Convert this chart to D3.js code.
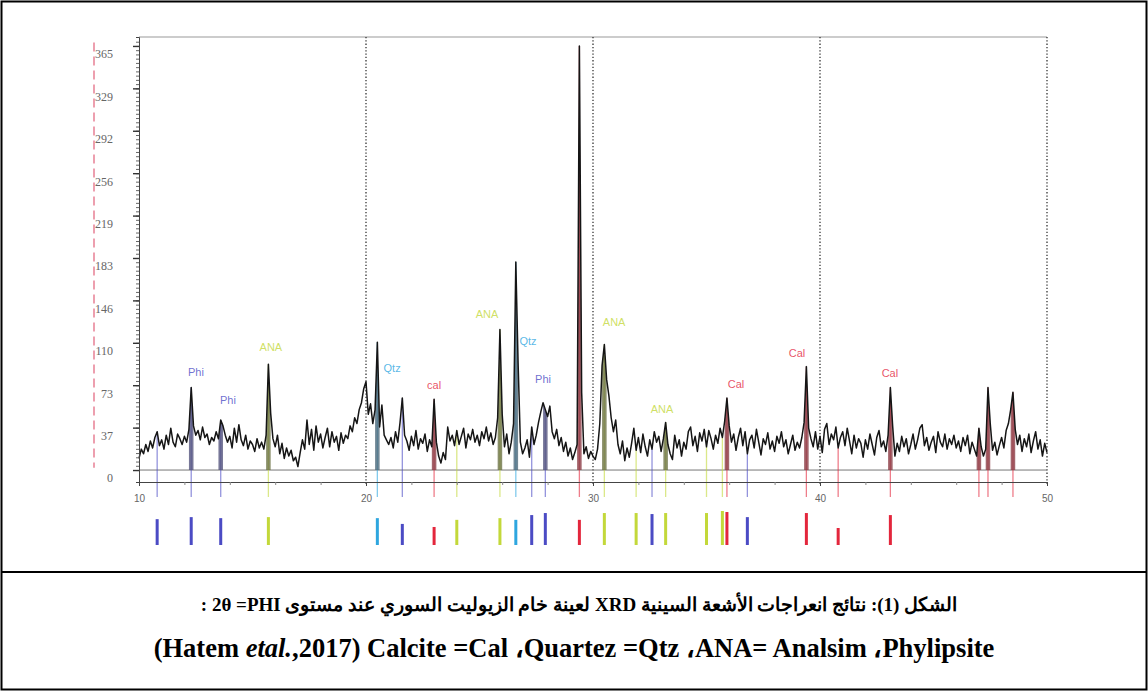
<!DOCTYPE html>
<html>
<head>
<meta charset="utf-8">
<script src="https://cdn.jsdelivr.net/npm/d3@7"></script>
<style>
  body { margin: 0; background: #fff; }
</style>
</head>
<body>
<div id="chart"></div>
<script>
// Parameters
const width = 1148;
const height = 691;

// XRD trace, 2theta from 10 to 50 every 0.1 degree (counts)
const twoThetaStart = 10;
const twoThetaStep = 0.1;
const counts = [
  10, 18, 14, 22, 16, 25, 19, 28, 33, 21,
  26, 18, 30, 22, 36, 24, 20, 31, 27, 22,
  29, 24, 35, 71, 38, 30, 34, 26, 37, 28,
  31, 22, 28, 25, 33, 27, 43, 38, 30, 24,
  29, 19, 36, 24, 39, 26, 21, 30, 18, 25,
  22, 16, 27, 19, 24, 18, 30, 91, 49, 27,
  20, 30, 14, 23, 10, 19, 12, 17, 8, 11,
  3, 15, 26, 18, 43, 22, 35, 17, 38, 24,
  31, 19, 28, 36, 20, 33, 24, 29, 17, 32,
  23, 30, 27, 38, 33, 45, 40, 52, 58, 70,
  76, 48, 57, 40, 52, 110, 37, 56, 30, 26,
  22, 28, 19, 33, 24, 41, 62, 30, 25, 17,
  29, 21, 34, 18, 27, 23, 31, 16, 26, 20,
  61, 24, 12, 6, 15, 9, 37, 25, 30, 21,
  34, 22, 29, 36, 19, 31, 26, 35, 24, 30,
  21, 33, 27, 37, 25, 32, 22, 28, 45, 121,
  48, 20, 31, 14, 24, 40, 179, 92, 24, 14,
  19, 26, 11, 37, 22, 30, 41, 50, 58, 52,
  46, 55, 33, 27, 35, 21, 28, 16, 24, 12,
  19, 9, 15, 22, 365, 67, 14, 20, 10, 16,
  12, 9, 18, 40, 90, 108, 78, 64, 45, 33,
  43, 22, 14, 25, 8, 19, 11, 23, 36, 17,
  28, 15, 31, 20, 12, 26, 18, 33, 24, 29,
  16, 27, 41, 22, 14, 9, 30, 19, 26, 12,
  24, 18, 33, 37, 21, 29, 16, 32, 25, 35,
  20, 34, 27, 18, 30, 23, 36, 28, 42, 62,
  38, 24, 31, 17, 28, 36, 21, 33, 14, 26,
  30, 19, 35, 24, 13, 27, 22, 32, 18, 25,
  16, 29, 23, 33, 20, 26, 14, 22, 30, 17,
  24, 19, 28, 41, 89, 36, 27, 20, 33, 18,
  29, 15, 35, 40, 22, 31, 26, 37, 19, 28,
  33, 21, 36, 25, 14, 30, 19, 27, 23, 11,
  26, 18, 31, 22, 13, 28, 34, 20, 25, 16,
  30, 71, 38, 12, 23, 16, 29, 20, 27, 14,
  22, 31, 18, 26, 36, 39, 21, 28, 17, 24,
  29, 15, 33, 24, 20, 31, 18, 27, 22, 30,
  19, 25, 16, 28, 21, 30, 14, 24, 18, 12,
  36, 20, 12, 18, 71, 40, 17, 24, 13, 21,
  28, 19, 34, 40, 52, 67, 35, 22, 30, 16,
  27, 20, 31, 15, 25, 33, 18, 26, 12, 23,
  15
];

// axes
const xTickValues = [10, 20, 30, 40, 50];
const xMinorTicks = [12, 14, 16, 18, 22, 24, 26, 28, 32, 34, 36, 38, 42, 44, 46, 48];
const yTickValues = [0, 36.5, 73, 109.5, 146, 182.5, 219, 255.5, 292, 328.5, 365];
const yTickLabels = ['0', '37', '73', '110', '146', '183', '219', '256', '292', '329', '365'];

// phases
const phaseNames = ['Phi', 'ANA', 'Qtz', 'Cal'];
const phaseColors = ['#4b4bc4', '#c3d83a', '#2ea6df', '#e3263c'];
const phaseFills = ['#55557e', '#6d7345', '#4e6a7c', '#8c3d46'];

// reference pattern lines (position, phase, stick height in %)
const refPos =   [10.8, 12.3, 13.6, 15.7, 20.5, 21.6, 23.0, 24.0, 25.9, 26.6, 27.3, 27.9, 29.4, 30.5, 31.9, 32.6, 33.2, 35.0, 35.7, 35.9, 36.8, 39.4, 40.8, 43.1, 47.0, 47.4, 48.5];
const refPhase = ['Phi', 'Phi', 'Phi', 'ANA', 'Qtz', 'Phi', 'Cal', 'ANA', 'ANA', 'Qtz', 'Phi', 'Phi', 'Cal', 'ANA', 'ANA', 'Phi', 'ANA', 'ANA', 'ANA', 'Cal', 'Phi', 'Cal', 'Cal', 'Cal', 'Cal', 'Cal', 'Cal'];
const refStick = [76, 82, 79, 82, 79, 62, 53, 74, 79, 74, 88, 94, 74, 94, 94, 91, 94, 94, 100, 97, 82, 94, 50, 88, 0, 0, 0];

// identified peaks (filled)
const peakPos =   [12.3, 13.6, 15.7, 20.5, 23.0, 25.9, 26.6, 27.9, 29.4, 30.5, 33.2, 35.9, 39.4, 43.1, 47.0, 47.4, 48.5];
const peakPhase = ['Phi', 'Phi', 'ANA', 'Qtz', 'Cal', 'ANA', 'Qtz', 'Phi', 'Cal', 'ANA', 'ANA', 'Cal', 'Cal', 'Cal', 'Cal', 'Cal', 'Cal'];

// peak labels
const labelText =  ['Phi', 'Phi', 'ANA', 'Qtz', 'cal', 'ANA', 'Qtz', 'Phi', 'ANA', 'ANA', 'Cal', 'Cal', 'Cal'];
const labelPhase = ['Phi', 'Phi', 'ANA', 'Qtz', 'Cal', 'ANA', 'Qtz', 'Phi', 'ANA', 'ANA', 'Cal', 'Cal', 'Cal'];
const labelPos =   [12.51, 13.92, 15.81, 21.15, 23.0, 25.33, 27.14, 27.8, 30.93, 33.04, 36.3, 38.99, 43.08];
const labelCount = [84, 60, 106, 88, 73, 134, 111, 78, 127, 52, 74, 101, 83];

// caption
const captionLine1 = 'الشكل (1): نتائج انعراجات الأشعة السينية XRD  لعينة خام الزيوليت السوري عند مستوى 2θ  =PHI :';
const captionLine2 = ['(Hatem ', 'etal.', ',2017) Calcite =Cal ،Quartez =Qtz ،ANA= Analsim ،Phylipsite'];

const trace = counts.map((c, i) => ({ t: twoThetaStart + i * twoThetaStep, c: c }));
const countAt = t => counts[Math.round((t - twoThetaStart) / twoThetaStep)];
const colorOf = p => phaseColors[phaseNames.indexOf(p)];
const fillOf = p => phaseFills[phaseNames.indexOf(p)];

function drawGraph() {
  const svg = d3.select('#chart')
    .append('svg')
    .attr('width', width)
    .attr('height', height)
    .style('display', 'block');

  // scales
  const x = d3.scaleLinear().domain([10, 50]).range([139, 1047]);
  const y = d3.scaleLinear().domain([-10.3, 372.7]).range([482, 37]);
  const stickY = d3.scaleLinear().domain([0, 100]).range([545, 511]);
  const axisY = y(-10.3);

  // outer frame
  svg.append('rect')
    .attr('x', 1.5).attr('y', 1.5)
    .attr('width', width - 3).attr('height', height - 3)
    .attr('fill', 'none').attr('stroke', '#000').attr('stroke-width', 2);
  svg.append('line')
    .attr('x1', 1.5).attr('x2', width - 1.5)
    .attr('y1', 572).attr('y2', 572)
    .attr('stroke', '#000').attr('stroke-width', 2);

  // red dashed marker left of the labels
  svg.append('line')
    .attr('x1', 94).attr('x2', 94)
    .attr('y1', y(368)).attr('y2', y(2))
    .attr('stroke', '#e2607a').attr('stroke-width', 1.2)
    .attr('stroke-dasharray', '9,5');

  // top border of plot
  svg.append('line')
    .attr('x1', x(10)).attr('x2', x(50))
    .attr('y1', y(372.7)).attr('y2', y(372.7))
    .attr('stroke', '#999').attr('stroke-width', 1.2);

  // dotted grid lines
  svg.append('g')
    .selectAll('line')
    .data(xTickValues.slice(1))
    .join('line')
    .attr('x1', d => x(d)).attr('x2', d => x(d))
    .attr('y1', y(372.7)).attr('y2', axisY + 3)
    .attr('stroke', '#333').attr('stroke-width', 1.3)
    .attr('stroke-dasharray', '1.3,2');

  // zero line
  svg.append('line')
    .attr('x1', x(10)).attr('x2', x(50))
    .attr('y1', y(0)).attr('y2', y(0))
    .attr('stroke', '#777').attr('stroke-width', 1);

  // reference lines inside plot
  svg.append('g')
    .selectAll('line')
    .data(refPos)
    .join('line')
    .attr('x1', d => x(d)).attr('x2', d => x(d))
    .attr('y1', d => y(countAt(d)))
    .attr('y2', axisY + 15)
    .attr('stroke', (d, i) => colorOf(refPhase[i]))
    .attr('stroke-opacity', 0.6)
    .attr('stroke-width', 1.3);

  // peak fills
  const area = d3.area()
    .x(d => x(d.t))
    .y0(y(0))
    .y1(d => y(d.c));
  svg.append('g')
    .selectAll('path')
    .data(peakPos)
    .join('path')
    .attr('d', p => area(trace.filter(d => Math.abs(d.t - p) < 0.101)))
    .attr('fill', (p, i) => fillOf(peakPhase[i]))
    .attr('fill-opacity', 0.8);

  // trace
  svg.append('path')
    .datum(trace)
    .attr('d', d3.line().x(d => x(d.t)).y(d => y(d.c)))
    .attr('fill', 'none')
    .attr('stroke', '#151515')
    .attr('stroke-width', 1.5)
    .attr('stroke-linejoin', 'round');

  // x axis
  const xAxis = svg.append('g')
    .attr('transform', `translate(0, ${axisY})`)
    .call(d3.axisBottom(x).tickValues(xTickValues).tickSize(4).tickPadding(9).tickFormat(d3.format('d')));
  xAxis.select('.domain').attr('stroke', '#444');
  xAxis.selectAll('.tick line').attr('stroke', '#444');
  xAxis.selectAll('text')
    .attr('fill', '#666')
    .style('font', '10px "Liberation Sans", sans-serif');
  const xMinor = svg.append('g')
    .attr('transform', `translate(0, ${axisY})`)
    .call(d3.axisBottom(x).tickValues(xMinorTicks).tickSize(3).tickFormat(''));
  xMinor.select('.domain').remove();
  xMinor.selectAll('.tick line').attr('stroke', '#888');

  // y axis
  const yMinor = svg.append('g')
    .attr('transform', `translate(${x(10)}, 0)`)
    .call(d3.axisLeft(y).tickValues(d3.range(0, 372, 3.65)).tickSize(3).tickFormat(''));
  yMinor.select('.domain').attr('stroke', '#444');
  yMinor.selectAll('.tick line').attr('stroke', '#666');
  const yAxis = svg.append('g')
    .attr('transform', `translate(${x(10)}, 0)`)
    .call(d3.axisLeft(y).tickValues(yTickValues).tickSize(6).tickPadding(20)
      .tickFormat((d, i) => yTickLabels[i]));
  yAxis.select('.domain').remove();
  yAxis.selectAll('.tick line').attr('stroke', '#333').attr('stroke-width', 1.4);
  yAxis.selectAll('text')
    .attr('y', 8)
    .attr('fill', '#666')
    .style('font', '12px "Liberation Serif", serif');

  // peak labels
  svg.append('g')
    .attr('text-anchor', 'middle')
    .style('font', '11px "Liberation Sans", Arial, sans-serif')
    .selectAll('text')
    .data(labelText)
    .join('text')
    .attr('x', (d, i) => x(labelPos[i]))
    .attr('y', (d, i) => y(labelCount[i]))
    .attr('dy', '0.35em')
    .attr('fill', (d, i) => colorOf(labelPhase[i]))
    .attr('fill-opacity', 0.8)
    .text(d => d);

  // reference sticks below axis
  svg.append('g')
    .selectAll('rect')
    .data(refPos.filter((d, i) => refStick[i] > 0))
    .join('rect')
    .attr('x', d => x(d) - 1.5)
    .attr('width', 3)
    .attr('y', (d, i) => stickY(refStick[i]))
    .attr('height', (d, i) => stickY(0) - stickY(refStick[i]))
    .attr('fill', (d, i) => colorOf(refPhase[i]));

  // caption
  svg.append('text')
    .attr('x', 579).attr('y', 611)
    .attr('text-anchor', 'middle')
    .attr('direction', 'rtl')
    .style('font', 'bold 19px "Liberation Serif", "DejaVu Serif", serif')
    .text(captionLine1);
  const cap2 = svg.append('text')
    .attr('x', 574).attr('y', 657)
    .attr('text-anchor', 'middle')
    .style('font', 'bold 26.5px "Liberation Serif", serif');
  captionLine2.forEach((s, i) => {
    cap2.append('tspan')
      .style('font-style', i === 1 ? 'italic' : 'normal')
      .text(s);
  });
}

drawGraph();
</script>
</body>
</html>
